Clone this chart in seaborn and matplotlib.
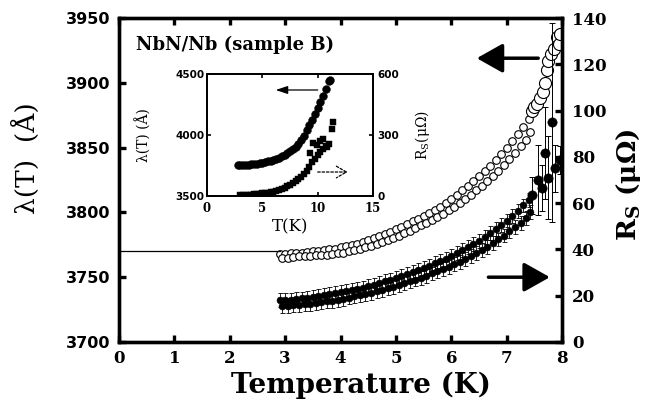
import matplotlib
matplotlib.use("Agg")
import matplotlib.pyplot as plt
import seaborn as sns
import pandas as pd

# ---------------- data ----------------
T_grid_a = [2.9, 3.0, 3.1, 3.2, 3.3, 3.4, 3.5, 3.6, 3.7, 3.8, 3.9,
            4.0, 4.1, 4.2, 4.3, 4.4, 4.5, 4.6, 4.7, 4.8, 4.9,
            5.0, 5.1, 5.2, 5.3, 5.4, 5.5, 5.6, 5.7, 5.8, 5.9,
            6.0, 6.1, 6.2, 6.3, 6.4, 6.5, 6.6, 6.7, 6.8, 6.9,
            7.0, 7.1, 7.2, 7.3, 7.4]
T_grid_b = [2.95, 3.05, 3.15, 3.25, 3.35, 3.45, 3.55, 3.65, 3.75, 3.85, 3.95,
            4.05, 4.15, 4.25, 4.35, 4.45, 4.55, 4.65, 4.75, 4.85, 4.95,
            5.05, 5.15, 5.25, 5.35, 5.45, 5.55, 5.65, 5.75, 5.85, 5.95,
            6.05, 6.15, 6.25, 6.35, 6.45, 6.55, 6.65, 6.75, 6.85, 6.95,
            7.05, 7.15, 7.25, 7.35, 7.42]
lam_a = [3768, 3768, 3768.5, 3769, 3769, 3769.5, 3770, 3770.5, 3771, 3771.5, 3772,
         3773, 3774, 3775, 3776, 3777.5, 3779, 3780, 3781.5, 3783, 3785,
         3787, 3789, 3791, 3793, 3795, 3797, 3799.5, 3802, 3804.5, 3807,
         3810, 3813.5, 3817, 3820.5, 3824, 3828, 3832, 3836, 3840.5, 3845,
         3850, 3855, 3860.5, 3866, 3872]
lam_b = [3765, 3765, 3765.5, 3766, 3766, 3766.5, 3767, 3767, 3767.5, 3768, 3768.5,
         3769, 3770, 3771, 3772, 3773, 3774, 3775.5, 3777, 3778.5, 3780,
         3782, 3784, 3786, 3788, 3790, 3792, 3794, 3796.5, 3799, 3801.5,
         3804, 3807, 3810, 3813.5, 3817, 3820.5, 3824, 3828, 3832, 3836.5,
         3841, 3846, 3851, 3856, 3862]
lam_hi_T = [7.45, 7.5, 7.55, 7.6, 7.65, 7.7, 7.72, 7.75, 7.8, 7.85, 7.9, 7.95, 7.97]
lam_hi = [3878, 3881, 3884, 3888, 3893, 3900, 3910, 3917, 3922, 3926, 3935, 3930, 3938]
lam_base_T = [0.0, 2.9]
lam_base = [3770, 3770]

rs_a = [18, 18, 18.3, 18.5, 18.8, 19, 19.4, 19.8, 20.2, 20.6, 21,
        21.5, 22, 22.5, 23, 23.5, 24.2, 24.8, 25.5, 26.2, 27,
        27.8, 28.5, 29.3, 30.2, 31, 32, 33, 34, 35, 36,
        37.2, 38.4, 39.6, 41, 42.3, 43.8, 45.3, 47, 48.7, 50.5,
        52.5, 54.5, 56.7, 59, 61.5]
rs_b = [15.5, 15.5, 15.8, 16, 16.2, 16.5, 16.8, 17.1, 17.5, 17.9, 18.3,
        18.7, 19.2, 19.7, 20.2, 20.7, 21.3, 21.9, 22.5, 23.2, 23.9,
        24.6, 25.4, 26.2, 27, 27.8, 28.7, 29.6, 30.5, 31.5, 32.5,
        33.6, 34.7, 35.9, 37.1, 38.4, 39.8, 41.2, 42.7, 44.3, 46,
        47.8, 49.6, 51.6, 53.7, 56]
rs_err = 3.0
rs_hi_T = [7.45, 7.57, 7.63, 7.69, 7.75, 7.81, 7.87, 7.96]
rs_hi = [63.5, 70, 66.5, 81.7, 71, 95, 75, 78.6]
rs_hi_err = [8, 15, 10, 20, 18, 43, 10, 6]

inset_T = [2.8, 3.0, 3.25, 3.5, 3.75, 4.0, 4.25, 4.5, 4.75, 5.0, 5.25, 5.5, 5.75,
           6.0, 6.25, 6.5, 6.75, 7.0, 7.25, 7.5, 7.75, 8.0, 8.25, 8.5, 8.75,
           9.0, 9.25, 9.5, 9.75, 10.0, 10.25, 10.5, 10.75, 11.0, 11.1]
inset_lam = [3755, 3755, 3756, 3757, 3758, 3760, 3762, 3765, 3769, 3773, 3778, 3784, 3790,
             3797, 3805, 3814, 3824, 3836, 3850, 3866, 3884, 3905, 3930, 3958, 3993,
             4040, 4080, 4125, 4172, 4222, 4272, 4322, 4380, 4440, 4455]
inset_rs_T = [3.0, 3.25, 3.5, 3.75, 4.0, 4.25, 4.5, 4.75, 5.0, 5.25, 5.5, 5.75, 6.0,
              6.25, 6.5, 6.75, 7.0, 7.25, 7.5, 7.75, 8.0, 8.25, 8.5, 8.75, 9.0,
              9.25, 9.5, 9.75, 10.0, 10.25, 10.5, 10.75, 11.0,
              9.3, 9.6, 9.9, 10.2, 10.5, 10.8, 11.3, 11.35]
inset_rs = [3, 4, 5, 6, 7, 8.5, 10, 11.5, 13, 15, 17, 19.5, 22,
            26, 30, 35, 40, 47, 55, 63, 72, 83, 95, 110, 125,
            145, 165, 182, 200, 215, 230, 245, 258,
            210, 262, 250, 270, 280, 240, 330, 362]

main_lam_df = pd.DataFrame({"T": T_grid_a + T_grid_b, "lam": lam_a + lam_b})
main_rs_df = pd.DataFrame({"T": T_grid_a + T_grid_b, "rs": rs_a + rs_b})

# ---------------- figure ----------------
sns.set_theme(style="ticks")
plt.rcParams["font.family"] = ["DejaVu Serif", "DejaVu Sans"]
plt.rcParams["mathtext.fontset"] = "dejavuserif"
for key in ("text.color", "axes.labelcolor", "xtick.color", "ytick.color",
            "axes.edgecolor"):
    plt.rcParams[key] = "black"

fig = plt.figure(figsize=(6.47, 4.08), dpi=100)
ax = fig.add_axes([0.184, 0.1618, 0.6847, 0.794])
ax2 = ax.twinx()

# lambda (left axis)
sns.lineplot(x=lam_base_T, y=lam_base, ax=ax, color="black", lw=0.9)
sns.scatterplot(data=main_lam_df, x="T", y="lam", ax=ax, marker="o", s=30,
                facecolor="white", edgecolor="black", linewidth=0.8)
sns.scatterplot(x=lam_hi_T, y=lam_hi, ax=ax, marker="o", s=75,
                facecolor="white", edgecolor="black", linewidth=0.8)

# Rs (right axis)
ax2.errorbar(T_grid_a + T_grid_b, rs_a + rs_b, yerr=rs_err, fmt="none",
             ecolor="black", elinewidth=0.6, capsize=1.8, capthick=0.6)
ax2.errorbar(rs_hi_T, rs_hi, yerr=rs_hi_err, fmt="none",
             ecolor="black", elinewidth=0.7, capsize=2, capthick=0.7)
sns.scatterplot(data=main_rs_df, x="T", y="rs", ax=ax2, marker="o", s=25,
                color="black", edgecolor="black", linewidth=0.4)
sns.scatterplot(x=rs_hi_T, y=rs_hi, ax=ax2, marker="o", s=45,
                color="black", edgecolor="black", linewidth=0.4)

ax.set_xlim(0, 8)
ax.set_ylim(3700, 3950)
ax2.set_ylim(0, 140)
ax.set_xticks(range(0, 9))
ax.set_yticks([3700, 3750, 3800, 3850, 3900, 3950])
ax2.set_yticks(range(0, 141, 20))
ax.set_xlabel("")
ax.set_ylabel("")
ax2.set_ylabel("")

for a in (ax, ax2):
    for sp in a.spines.values():
        sp.set_linewidth(2.4)
        sp.set_color("black")
        sp.set_visible(True)
ax.tick_params(axis="both", direction="in", length=5, width=2.4, top=True,
               right=False, colors="black", pad=6)
ax2.tick_params(axis="y", direction="in", length=5, width=2.4, colors="black", pad=7)

for lab in ax.get_yticklabels():
    lab.set_fontfamily("DejaVu Sans")
    lab.set_fontweight("bold")
    lab.set_fontsize(11.5)
for lab in ax.get_xticklabels():
    lab.set_fontfamily("DejaVu Serif")
    lab.set_fontweight("bold")
    lab.set_fontsize(12)
for lab in ax2.get_yticklabels():
    lab.set_fontfamily("DejaVu Serif")
    lab.set_fontweight("bold")
    lab.set_fontsize(12)

ax.text(0.546, -0.133, "Temperature (K)", transform=ax.transAxes, ha="center",
        va="center", fontsize=20, fontweight="bold", family="DejaVu Serif")
ax.text(-0.21, 0.568, "λ(T)  (Å)", transform=ax.transAxes, ha="center",
        va="center", rotation=90, fontsize=19, family="DejaVu Serif")
ax2.text(1.149, 0.485, r"R$_\mathbf{S}$ (μΩ)", transform=ax.transAxes, ha="center",
         va="center", rotation=90, fontsize=19, fontweight="bold", family="DejaVu Serif")
ax.text(0.038, 0.917, "NbN/Nb (sample B)", transform=ax.transAxes, ha="left",
        va="center", fontsize=13, fontweight="bold", family="DejaVu Serif")

# main arrows
ax.annotate("", xy=(6.46, 3919), xytext=(7.57, 3919),
            arrowprops=dict(arrowstyle="-|>,head_length=0.8,head_width=0.45",
                            lw=2.5, color="black", mutation_scale=20,
                            shrinkA=0, shrinkB=0))
ax2.annotate("", xy=(7.78, 28), xytext=(6.67, 28),
             arrowprops=dict(arrowstyle="-|>,head_length=0.8,head_width=0.45",
                             lw=2.5, color="black", mutation_scale=20,
                             shrinkA=0, shrinkB=0))

# ---------------- inset ----------------
axi = fig.add_axes([0.32, 0.5196, 0.2566, 0.299])
axi.set_zorder(5)
axi.set_facecolor("white")
axi2 = axi.twinx()
axi2.set_zorder(6)
axi2.patch.set_visible(False)

sns.scatterplot(x=inset_T, y=inset_lam, ax=axi, marker="o", s=32, color="black",
                edgecolor="black", linewidth=0.3)
sns.scatterplot(x=inset_rs_T, y=inset_rs, ax=axi2, marker="s", s=14, color="black",
                edgecolor="black", linewidth=0.3)

axi.set_xlim(0, 15)
axi.set_ylim(3500, 4500)
axi2.set_ylim(0, 600)
axi.set_xticks([0, 5, 10, 15])
axi.set_yticks([3500, 4000, 4500])
axi2.set_yticks([0, 300, 600])
axi.set_xlabel("")
axi.set_ylabel("")
axi2.set_ylabel("")
for a in (axi, axi2):
    for sp in a.spines.values():
        sp.set_linewidth(1.3)
        sp.set_color("black")
axi.tick_params(axis="y", direction="in", length=3, width=1.2,
                right=False, colors="black", pad=2)
axi.tick_params(axis="x", direction="in", length=3, width=1.2, top=True,
                colors="black", pad=4)
axi2.tick_params(axis="y", direction="in", length=3, width=1.2, colors="black", pad=3)
for lab in axi.get_yticklabels() + axi2.get_yticklabels():
    lab.set_fontfamily("DejaVu Sans")
    lab.set_fontweight("bold")
    lab.set_fontsize(7.5)
for lab in axi.get_xticklabels():
    lab.set_fontfamily("DejaVu Serif")
    lab.set_fontweight("bold")
    lab.set_fontsize(8.5)

axi.text(0.5, -0.25, "T(K)", transform=axi.transAxes, ha="center", va="center",
         fontsize=12, family="DejaVu Serif")
axi.text(-0.385, 0.5, "λ(T) (Å)", transform=axi.transAxes, ha="center", va="center",
         rotation=90, fontsize=10, family="DejaVu Serif")
axi.text(1.3, 0.5, r"R$_\mathrm{S}$(μΩ)", transform=axi.transAxes, ha="center",
         va="center", rotation=90, fontsize=10, family="DejaVu Serif")

axi.annotate("", xy=(6.2, 4369), xytext=(10.0, 4369),
             arrowprops=dict(arrowstyle="-|>,head_length=0.6,head_width=0.2",
                             lw=0.9, color="black", mutation_scale=12,
                             shrinkA=0, shrinkB=0))
axi2.annotate("", xy=(12.7, 118), xytext=(10.0, 118),
              arrowprops=dict(arrowstyle="->,head_length=0.6,head_width=0.35",
                              lw=0.9, color="black", mutation_scale=12,
                              linestyle=(0, (2, 1.5)), shrinkA=0, shrinkB=0))

fig.savefig("out.png", dpi=100)
